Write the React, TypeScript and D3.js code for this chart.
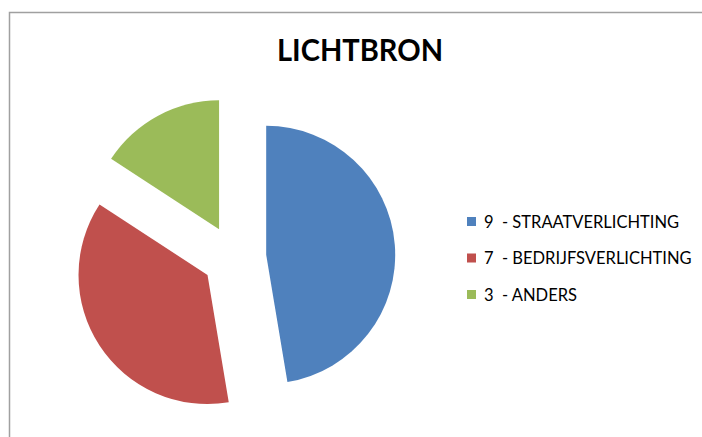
import React from 'react';
import * as d3 from 'd3';

// chart data
const categories = ['STRAATVERLICHTING', 'BEDRIJFSVERLICHTING', 'ANDERS'];
const values = [9, 7, 3];
const colors = ['#4F81BD', '#C0504D', '#9BBB59'];
const title = 'LICHTBRON';

const width = 702;
const height = 437;

export default function App() {
  const cx = 234.3;
  const cy = 257.5;
  const radius = 129;
  const explode = 32;

  const pie = d3.pie<number>().sort(null).startAngle(0).endAngle(2 * Math.PI);
  const arc = d3.arc<d3.PieArcDatum<number>>().innerRadius(0).outerRadius(radius);
  const slices = pie(values);

  // legend
  const legendX = 467;
  const legendY = d3.scalePoint<number>().domain(d3.range(values.length)).range([221.5, 294.5]);

  return (
    <svg width={width} height={height} style={{ position: 'absolute', left: 0, top: 0, background: '#fff' }}>
      <rect x={9.5} y={12.5} width={800} height={500} fill="none" stroke="#a0a0a0" strokeWidth={1.5} />
      <text
        x={360}
        y={61}
        textAnchor="middle"
        fontFamily="Lato, 'Open Sans', sans-serif"
        fontWeight="bold"
        fontSize={30}
        textLength={166}
        lengthAdjust="spacingAndGlyphs"
        fill="#000"
      >
        {title}
      </text>
      <g transform={`translate(${cx},${cy})`}>
        {slices.map((s, i) => {
          const mid = (s.startAngle + s.endAngle) / 2;
          const dx = Math.sin(mid) * explode;
          const dy = -Math.cos(mid) * explode;
          return (
            <path key={i} d={arc(s) || ''} fill={colors[i]} transform={`translate(${dx},${dy})`} />
          );
        })}
      </g>
      <g fontFamily="Lato, 'Open Sans', sans-serif" fontSize={16.5} fill="#000">
        {categories.map((c, i) => (
          <g key={c} transform={`translate(${legendX},${legendY(i)})`}>
            <rect x={0} y={-4.5} width={9} height={9} fill={colors[i]} />
            <text x={17} y={6} style={{ whiteSpace: 'pre' }}>
              {`${values[i]}  - ${c}`}
            </text>
          </g>
        ))}
      </g>
    </svg>
  );
}
